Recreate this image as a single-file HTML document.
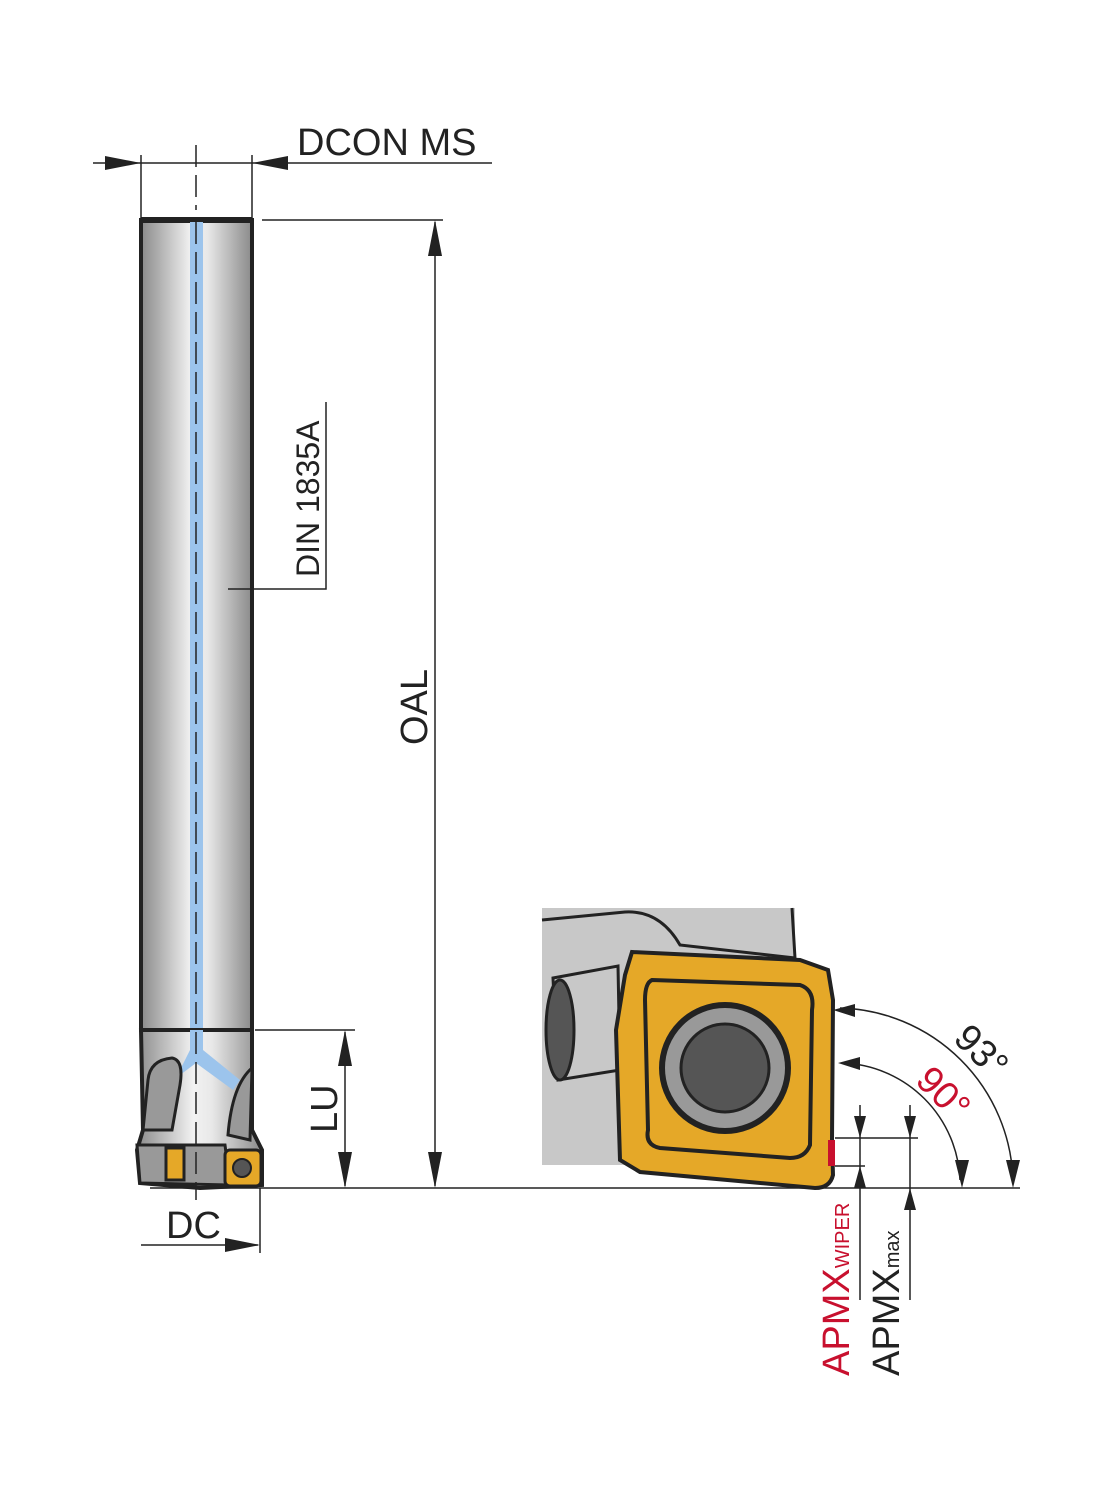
<!DOCTYPE html>
<html><head><meta charset="utf-8"><style>body{margin:0;background:#fff}svg{display:block}text{font-family:"Liberation Sans",sans-serif}</style></head><body>
<svg width="1113" height="1500" viewBox="0 0 1113 1500" xmlns="http://www.w3.org/2000/svg">
<defs>
<linearGradient id="g" x1="0" x2="1" y1="0" y2="0">
<stop offset="0" stop-color="#8a8a8a"/><stop offset="0.45" stop-color="#f2f2f2"/><stop offset="0.6" stop-color="#e8e8e8"/><stop offset="1" stop-color="#8a8a8a"/></linearGradient>
</defs>
<g stroke="#222" stroke-width="1.5" fill="none">
<line x1="93" y1="163" x2="492" y2="163"/>
<line x1="141" y1="155" x2="141" y2="218"/><line x1="252" y1="155" x2="252" y2="218"/>
<line x1="196" y1="145" x2="196" y2="210" stroke-dasharray="22,8"/>
</g>
<path d="M105,156L141,163L105,170z M288,156L252,163L288,170z" fill="#222"/>
<text x="297" y="155" font-size="38" fill="#222">DCON MS</text>
<rect x="141" y="220" width="111" height="810" fill="url(#g)" stroke="#222" stroke-width="4"/>
<rect x="141" y="217" width="111" height="6" fill="#222"/>
<rect x="190" y="222" width="13" height="808" fill="#9cc4ec"/>
<path d="M141,1030H252V1130L262,1150V1185L200,1188L140,1183L137,1150L143,1130Z" fill="url(#g)" stroke="#222" stroke-width="4"/>
<path d="M190,1030H203V1050L240,1080L233,1090L196,1063L160,1090L180,1070L190,1050Z" fill="#9cc4ec"/>
<path d="M148,1080Q150,1060 172,1058Q184,1060 180,1085L172,1130H143Z" fill="#999" stroke="#222" stroke-width="3"/>
<path d="M252,1068Q232,1085 228,1135L250,1140Z" fill="#999" stroke="#222" stroke-width="3"/>
<path d="M137,1145L225,1145L230,1185L140,1183Z" fill="#999" stroke="#222" stroke-width="3"/>
<rect x="166" y="1148" width="18" height="32" fill="#e5a828" stroke="#222" stroke-width="3"/>
<rect x="225" y="1150" width="36" height="36" rx="5" fill="#e5a828" stroke="#222" stroke-width="3"/>
<circle cx="242" cy="1168" r="9" fill="#555" stroke="#222" stroke-width="2"/>
<line x1="196" y1="222" x2="196" y2="1200" stroke="#222" stroke-width="1.5" stroke-dasharray="22,8"/>
<g stroke="#222" stroke-width="1.5" fill="none">
<line x1="262" y1="220" x2="443" y2="220"/>
<line x1="435" y1="222" x2="435" y2="1186"/>
<polyline points="228,589 326,589 326,402"/>
<line x1="255" y1="1030" x2="355" y2="1030"/>
<line x1="345" y1="1032" x2="345" y2="1186"/>
<line x1="150" y1="1188" x2="1020" y2="1188"/>
<line x1="141" y1="1245" x2="258" y2="1245"/>
<line x1="260" y1="1188" x2="260" y2="1253"/>
</g>
<path d="M428,256L435,220L442,256z M428,1152L435,1188L442,1152z M338,1066L345,1030L352,1066z M338,1152L345,1188L352,1152z M225,1238L260,1245L225,1252z" fill="#222"/>
<text transform="translate(427,745) rotate(-90)" font-size="38" fill="#222">OAL</text>
<text transform="translate(319,577) rotate(-90)" font-size="32" fill="#222">DIN 1835A</text>
<text transform="translate(337,1133) rotate(-90)" font-size="38" fill="#222">LU</text>
<text x="166" y="1238" font-size="38" fill="#222">DC</text>
<rect x="542" y="908" width="253" height="257" fill="#c8c8c8"/>
<path d="M542,920L625,912Q660,910 680,945L795,958L792,908" fill="none" stroke="#222" stroke-width="3"/>
<path d="M553,978L618,966L620,1070L558,1080Z" fill="#c8c8c8" stroke="#222" stroke-width="3"/>
<ellipse cx="560" cy="1030" rx="14" ry="50" fill="#555" stroke="#222" stroke-width="3"/>
<path d="M632,952L800,960L828,970L833,1000L832,1140L833,1175Q830,1188 815,1188L640,1172L620,1160L616,1030L625,975Z" fill="#e5a828" stroke="#222" stroke-width="4"/>
<path d="M652,980L800,985Q815,990 812,1010L810,1145Q805,1158 790,1158L660,1148Q645,1145 648,1130L645,1000Q645,983 652,980Z" fill="none" stroke="#222" stroke-width="4"/>
<circle cx="725" cy="1068" r="63" fill="#999" stroke="#222" stroke-width="6"/>
<circle cx="725" cy="1068" r="44" fill="#555" stroke="#222" stroke-width="3"/>
<rect x="828" y="1140" width="7" height="26" fill="#c8102e"/>
<g stroke="#222" stroke-width="1.5" fill="none">
<path d="M840,1008A178,178 0 0 1 1013,1180"/>
<path d="M843,1063A122,122 0 0 1 960,1180"/>
<line x1="835" y1="1138" x2="918" y2="1138"/>
<line x1="835" y1="1166" x2="865" y2="1166"/>
<line x1="860" y1="1105" x2="860" y2="1300"/>
<line x1="910" y1="1105" x2="910" y2="1300"/>
</g>
<path d="M833,1010L855,1004L855,1017z M838,1063L860,1057L860,1070z M1006,1160L1013,1188L1020,1160z M955,1160L962,1188L969,1160z M854,1116L860,1138L866,1116z M854,1188L860,1166L866,1188z M904,1116L910,1138L916,1116z M904,1210L910,1188L916,1210z" fill="#222"/>
<text transform="translate(952,1040) rotate(45)" font-size="38" fill="#222">93°</text>
<text transform="translate(914,1082) rotate(45)" font-size="38" fill="#c8102e">90°</text>
<text transform="translate(849,1376) rotate(-90)" font-size="38" fill="#c8102e">APMX<tspan font-size="20">WIPER</tspan></text>
<text transform="translate(899,1376) rotate(-90)" font-size="38" fill="#222">APMX<tspan font-size="20">max</tspan></text>
</svg>
</body></html>
